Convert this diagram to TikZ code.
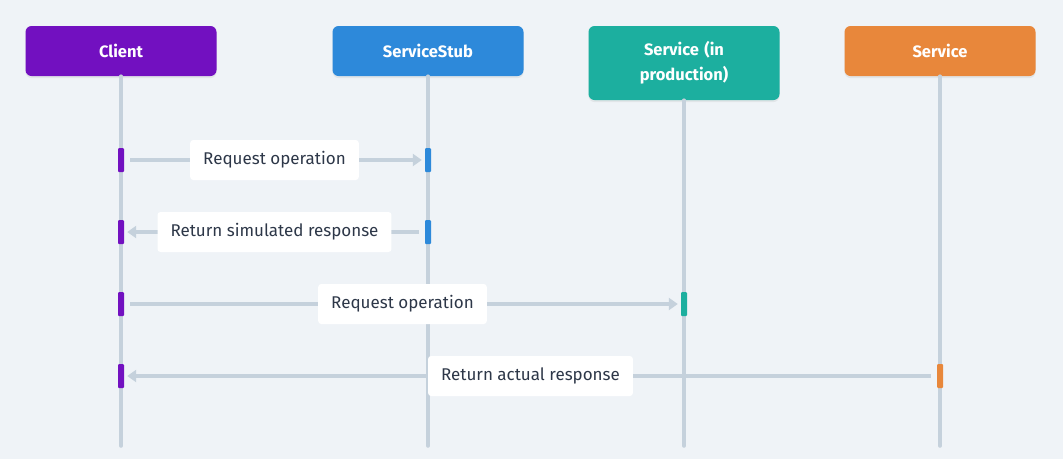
\documentclass[tikz,border=0pt]{standalone}
\usepackage{fontspec}
\setmainfont{Fira Sans}
\usetikzlibrary{arrows.meta,shadows}
\definecolor{bg}{HTML}{EFF3F7}
\definecolor{cpurple}{HTML}{7210C0}
\definecolor{cblue}{HTML}{2D89DA}
\definecolor{cteal}{HTML}{1CAF9F}
\definecolor{corange}{HTML}{E8873B}
\definecolor{cline}{HTML}{C5D1DC}
\definecolor{ctext}{HTML}{2D3748}
\tikzset{
  actor/.style={rounded corners=6pt, minimum width=191pt, minimum height=50pt, inner sep=0pt,
    text=white, font=\fontsize{16.5}{25}\selectfont\bfseries, align=center, text width=150pt,
    drop shadow={opacity=0.12, shadow xshift=0pt, shadow yshift=-2pt}},
  lifeline/.style={draw=cline, line width=3.5pt, line cap=round},
  actbar/.style={minimum width=6pt, minimum height=24pt, inner sep=0pt, rounded corners=1pt},
  msg/.style={draw=cline, line width=4pt, -{Triangle[length=9pt,width=12pt]}, shorten <=6pt, shorten >=3pt},
  msglabel/.style={fill=white, rounded corners=3pt, minimum height=40pt, inner xsep=13pt,
    text=ctext, font=\fontsize{17}{20}\selectfont},
}
\begin{document}
\begin{tikzpicture}[x=1pt,y=-1pt]
\fill[bg] (0,0) rectangle (1063,459);
\useasboundingbox (0,0) rectangle (1063,459);
% actors
\node[actor, fill=cpurple] (client) at (121,51) {Client};
\node[actor, fill=cblue] (stub) at (428,51) {ServiceStub};
\node[actor, fill=cteal, minimum height=74pt] (prod) at (684,63) {Service (in\\production)};
\node[actor, fill=corange] (svc) at (940,51) {Service};
% lifeline ends
\coordinate (clientend) at (121,446);
\coordinate (stubend) at (428,446);
\coordinate (prodend) at (684,446);
\coordinate (svcend) at (940,446);
\draw[lifeline] (client.south) -- (clientend);
\draw[lifeline] (stub.south) -- (stubend);
\draw[lifeline] (prod.south) -- (prodend);
\draw[lifeline] (svc.south) -- (svcend);
% activation bars
\node[actbar, fill=cpurple] (c1) at (121,160) {};
\node[actbar, fill=cblue] (s1) at (428,160) {};
\node[actbar, fill=cpurple] (c2) at (121,232) {};
\node[actbar, fill=cblue] (s2) at (428,232) {};
\node[actbar, fill=cpurple] (c3) at (121,304) {};
\node[actbar, fill=cteal] (p3) at (684,304) {};
\node[actbar, fill=cpurple] (c4) at (121,376) {};
\node[actbar, fill=corange] (v4) at (940,376) {};
% messages
\draw[msg] (c1.east) -- (s1.west) node[midway, msglabel] {Request operation};
\draw[msg] (s2.west) -- (c2.east) node[midway, msglabel] {Return simulated response};
\draw[msg] (c3.east) -- (p3.west) node[midway, msglabel] {Request operation};
\draw[msg] (v4.west) -- (c4.east) node[midway, msglabel] {Return actual response};
\end{tikzpicture}
\end{document}
